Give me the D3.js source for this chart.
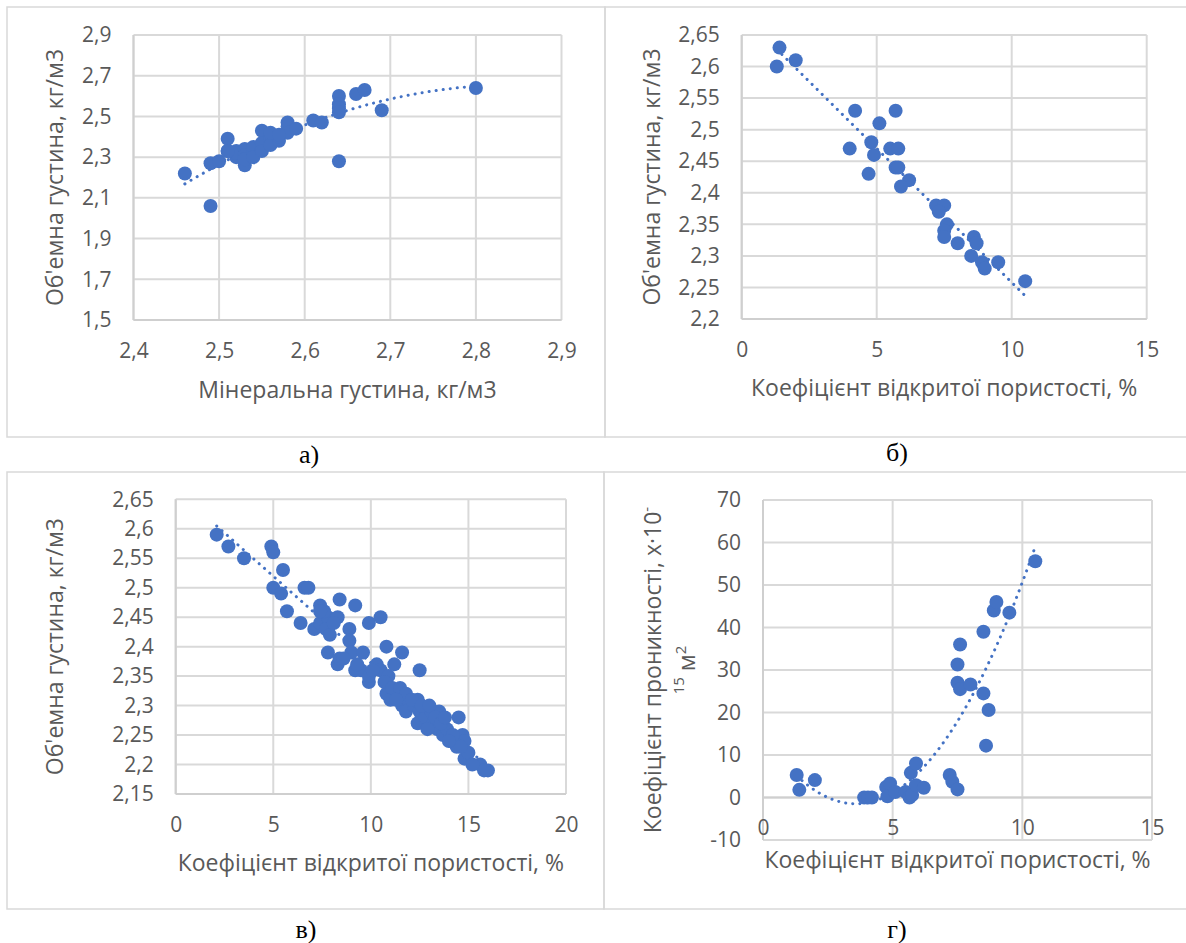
<!DOCTYPE html>
<html><head><meta charset="utf-8">
<script src="https://cdn.jsdelivr.net/npm/d3@7"></script>
<style>
html,body{margin:0;padding:0;background:#fff;}
svg{display:block;}
</style></head>
<body>
<svg id="c" width="1186" height="943"></svg>
<script>
// ---------- DATA ----------
// а) mineral density vs bulk density
const aMineral = [2.46,2.49,2.49,2.50,2.51,2.51,2.52,2.52,2.52,2.53,2.53,2.53,2.53,2.54,2.54,2.54,2.55,2.55,2.55,2.55,2.56,2.56,2.56,2.57,2.57,2.58,2.58,2.58,2.59,2.61,2.62,2.64,2.64,2.64,2.64,2.64,2.66,2.67,2.69,2.80,2.56,2.57,2.51];
const aBulk    = [2.22,2.06,2.27,2.28,2.39,2.33,2.33,2.30,2.32,2.34,2.31,2.26,2.29,2.32,2.35,2.30,2.43,2.34,2.37,2.33,2.41,2.39,2.36,2.38,2.40,2.47,2.45,2.42,2.44,2.48,2.47,2.60,2.56,2.54,2.52,2.28,2.61,2.63,2.53,2.64,2.42,2.41,2.33];
const aXTicks = [2.4,2.5,2.6,2.7,2.8,2.9];
const aYTicks = [1.5,1.7,1.9,2.1,2.3,2.5,2.7,2.9];

// б) open porosity vs bulk density
const bPorosity = [1.4,1.3,2.0,4.2,5.7,5.1,4.0,4.8,4.9,5.5,5.8,4.7,5.7,5.8,6.2,5.9,7.2,7.5,7.3,7.6,7.5,7.5,8.0,8.6,8.7,8.5,8.9,9.0,9.5,10.5];
const bBulk     = [2.63,2.60,2.61,2.53,2.53,2.51,2.47,2.48,2.46,2.47,2.47,2.43,2.44,2.44,2.42,2.41,2.38,2.38,2.37,2.35,2.34,2.33,2.32,2.33,2.32,2.30,2.29,2.28,2.29,2.26];
const bXTicks = [0,5,10,15];
const bYTicks = [2.2,2.25,2.3,2.35,2.4,2.45,2.5,2.55,2.6,2.65];

// в) open porosity vs bulk density (larger set)
const vPorosity = [2.1,2.7,3.5,4.9,5.0,5.5,5.0,5.4,5.7,6.4,6.6,6.8,7.4,8.4,9.2,9.9,10.5,10.8,11.6,12.5,14.5,16.0,15.6,15.8,
  7.1,7.4,7.8,7.7,7.9,8.3,8.1,7.6,7.4,
  8.9,8.9,7.8,8.3,8.4,9.0,9.2,9.6,9.5,9.9,9.9,10.3,10.5,10.9,11.2,
  10.8,11.0,11.4,11.6,11.9,11.8,12.2,12.4,12.5,12.4,12.8,13.1,13.2,13.5,13.4,13.7,13.9,14.1,14.4,14.7,14.8,14.8,15.0,15.2,
  10.7,11.1,11.5,11.8,12.1,12.6,13.0,13.3,13.6,13.8,14.2,14.6,9.3,8.6,10.1,11.3,12.9,14.0];
const vBulk = [2.59,2.57,2.55,2.57,2.56,2.53,2.50,2.49,2.46,2.44,2.50,2.50,2.47,2.48,2.47,2.44,2.45,2.40,2.39,2.36,2.28,2.19,2.20,2.19,
  2.43,2.44,2.45,2.43,2.42,2.45,2.44,2.46,2.46,
  2.43,2.41,2.39,2.37,2.38,2.39,2.36,2.39,2.36,2.34,2.35,2.37,2.36,2.35,2.37,
  2.32,2.31,2.32,2.30,2.31,2.29,2.30,2.31,2.29,2.27,2.28,2.29,2.27,2.29,2.26,2.25,2.26,2.24,2.23,2.25,2.24,2.21,2.22,2.20,
  2.34,2.33,2.33,2.32,2.31,2.30,2.30,2.28,2.27,2.28,2.25,2.23,2.37,2.38,2.36,2.31,2.26,2.24];
const vXTicks = [0,5,10,15,20];
const vYTicks = [2.15,2.2,2.25,2.3,2.35,2.4,2.45,2.5,2.55,2.6,2.65];

// г) open porosity vs permeability
const gPorosity = [1.3,1.4,2.0,3.9,4.05,4.2,4.75,4.8,4.9,5.1,5.5,5.65,5.75,5.7,5.9,5.9,6.2,7.2,7.3,7.5,7.5,7.6,7.5,7.6,8.0,8.5,8.5,8.6,8.7,8.9,9.0,9.5,10.5];
const gPerm     = [5.3,1.8,4.1,0,0,0,2.5,0.3,3.3,1.3,1.3,0,0.6,5.8,8.0,2.9,2.3,5.3,3.7,1.9,31.3,36.0,27.0,25.5,26.6,39.0,24.5,12.2,20.6,44.0,46.0,43.5,55.6];
const gXTicks = [0,5,10,15];
const gYTicks = [-10,0,10,20,30,40,50,60,70];

// ---------- HELPERS ----------
const BLUE = "#4472C4", GRID = "#d9d9d9", TXT = "#595959";
const FONT = "'Open Sans', 'Noto Sans', sans-serif";
const TICK_FS = "21px", TITLE_FS = "23px", SUP_FS = "15px";
const svg = d3.select("#c");
const fmt = v => String(+v.toFixed(2)).replace(".", ",");

function polyfit(xs, ys, order) {
  const n = order + 1;
  const A = Array.from({length:n}, () => new Array(n + 1).fill(0));
  xs.forEach((x, k) => {
    for (let i = 0; i < n; i++) {
      for (let j = 0; j < n; j++) A[i][j] += Math.pow(x, i + j);
      A[i][n] += ys[k] * Math.pow(x, i);
    }
  });
  for (let i = 0; i < n; i++) {
    let p = i;
    for (let r = i + 1; r < n; r++) if (Math.abs(A[r][i]) > Math.abs(A[p][i])) p = r;
    [A[i], A[p]] = [A[p], A[i]];
    for (let r = 0; r < n; r++) if (r !== i) {
      const f = A[r][i] / A[i][i];
      for (let c = i; c <= n; c++) A[r][c] -= f * A[i][c];
    }
  }
  return A.map((row, i) => row[n] / row[i]);
}

function panel(o) {
  const x = d3.scaleLinear().domain(o.xDom).range([o.left, o.right]);
  const y = d3.scaleLinear().domain(o.yDom).range([o.bottom, o.top]);
  const g = svg.append("g");
  // gridlines
  g.selectAll(null).data(o.yTicks).join("line")
    .attr("x1", o.left).attr("x2", o.right)
    .attr("y1", d => y(d)).attr("y2", d => y(d))
    .attr("stroke", GRID).attr("stroke-width", 2);
  g.selectAll(null).data(o.xTicks).join("line")
    .attr("y1", o.top).attr("y2", o.bottom)
    .attr("x1", d => x(d)).attr("x2", d => x(d))
    .attr("stroke", GRID).attr("stroke-width", 2);
  // axes lines
  const axY = o.xAxisAt !== undefined ? y(o.xAxisAt) : o.bottom;
  g.append("line").attr("x1", o.left).attr("x2", o.right).attr("y1", axY).attr("y2", axY)
    .attr("stroke", "#cfcfcf").attr("stroke-width", 2);
  g.append("line").attr("x1", o.left).attr("x2", o.left).attr("y1", o.top).attr("y2", o.bottom)
    .attr("stroke", "#cfcfcf").attr("stroke-width", 2);

  // tick labels via d3 axes
  const xa = g.append("g").attr("transform", `translate(0,${axY})`)
    .call(d3.axisBottom(x).tickValues(o.xTicks).tickFormat(fmt).tickSize(0).tickPadding(23));
  const ya = g.append("g").attr("transform", `translate(${o.left},0)`)
    .call(d3.axisLeft(y).tickValues(o.yTicks).tickFormat(fmt).tickSize(0).tickPadding(22));
  [xa, ya].forEach(a => {
    a.select(".domain").remove();
    a.selectAll("text").attr("fill", TXT).style("font-family", FONT).style("font-size", TICK_FS);
  });

  // trend line (least-squares polynomial of the points)
  const coef = polyfit(o.xs, o.ys, o.order);
  const [x0, x1] = d3.extent(o.xs);
  const samples = d3.range(0, 101).map(i => x0 + (x1 - x0) * i / 100);
  const f = v => coef.reduce((s, c, i) => s + c * Math.pow(v, i), 0);
  g.append("path")
    .attr("d", d3.line().x(d => x(d)).y(d => y(f(d)))(samples))
    .attr("fill", "none").attr("stroke", BLUE).attr("stroke-width", 3)
    .attr("stroke-linecap", "round").attr("stroke-dasharray", "0.1 7");

  // points
  g.selectAll(null).data(o.xs.map((v, i) => [v, o.ys[i]])).join("circle")
    .attr("cx", d => x(d[0])).attr("cy", d => y(d[1])).attr("r", 7)
    .attr("fill", BLUE);

  // x title
  g.append("text").attr("x", (o.left + o.right) / 2).attr("y", o.xTitleY)
    .attr("text-anchor", "middle").attr("dominant-baseline", "middle")
    .attr("fill", TXT).style("font-family", FONT).style("font-size", TITLE_FS)
    .text(o.xTitle);
  // y title
  if (o.yTitle) {
    g.append("text").attr("transform", `translate(${o.yTitleX},${(o.top + o.bottom) / 2}) rotate(-90)`)
      .attr("text-anchor", "middle").attr("dominant-baseline", "middle")
      .attr("fill", TXT).style("font-family", FONT).style("font-size", TITLE_FS)
      .text(o.yTitle);
  }
  return {x, y, g};
}

// panel frames
const frames = [[7,7,605,437],[605,7,1192,437],[7,472,604,909],[604,472,1192,909]];
svg.selectAll("rect.frame").data(frames).join("rect").attr("class","frame")
  .attr("x", d => d[0]).attr("y", d => d[1]).attr("width", d => d[2]-d[0]).attr("height", d => d[3]-d[1])
  .attr("fill", "none").attr("stroke", GRID).attr("stroke-width", 1.5);

panel({xs:aMineral, ys:aBulk, order:2, xDom:[2.4,2.9], yDom:[1.5,2.9], xTicks:aXTicks, yTicks:aYTicks,
  left:133.5, right:561.5, top:35, bottom:320, xTitle:"Мінеральна густина, кг/м3", xTitleY:392,
  yTitle:"Об'емна густина, кг/м3", yTitleX:57});

panel({xs:bPorosity, ys:bBulk, order:1, xDom:[0,15], yDom:[2.2,2.65], xTicks:bXTicks, yTicks:bYTicks,
  left:741.7, right:1146.7, top:35, bottom:319, xTitle:"Коефіцієнт відкритої пористості, %", xTitleY:390,
  yTitle:"Об'емна густина, кг/м3", yTitleX:654});

panel({xs:vPorosity, ys:vBulk, order:1, xDom:[0,20], yDom:[2.15,2.65], xTicks:vXTicks, yTicks:vYTicks,
  left:175.7, right:566, top:499.3, bottom:794, xTitle:"Коефіцієнт відкритої пористості, %", xTitleY:865,
  yTitle:"Об'емна густина, кг/м3", yTitleX:57});

panel({xs:gPorosity, ys:gPerm, order:2, xDom:[0,15], yDom:[-10,70], xTicks:gXTicks, yTicks:gYTicks,
  left:763, right:1152, top:500, bottom:840, xAxisAt:0, xTitle:"Коефіцієнт відкритої пористості, %", xTitleY:862});

// г) y title in two lines with superscripts
const cy = (500 + 840) / 2;
const t1 = svg.append("text").attr("transform", `translate(655,${cy}) rotate(-90)`)
  .attr("text-anchor", "middle").attr("dominant-baseline", "middle")
  .attr("fill", TXT).style("font-family", FONT).style("font-size", TITLE_FS);
t1.append("tspan").text("Коефіцієнт проникності, х·10");
t1.append("tspan").attr("dy", "-0.45em").style("font-size", SUP_FS).text("-");
const t2 = svg.append("text").attr("transform", `translate(686,${cy}) rotate(-90)`)
  .attr("text-anchor", "middle").attr("dominant-baseline", "middle")
  .attr("fill", TXT).style("font-family", FONT).style("font-size", TITLE_FS);
t2.append("tspan").attr("dy", "-0.4em").style("font-size", SUP_FS).text("15");
t2.append("tspan").attr("dy", "0.4em").text(" м");
t2.append("tspan").attr("dy", "-0.45em").style("font-size", SUP_FS).text("2");

// captions
const caps = [["а)",309,457],["б)",897,455],["в)",306,932],["г)",897,932]];
svg.selectAll("text.cap").data(caps).join("text").attr("class","cap")
  .attr("x", d => d[1]).attr("y", d => d[2]).attr("text-anchor","middle").attr("dominant-baseline","middle")
  .style("font-family", "'Liberation Serif', 'DejaVu Serif', serif").style("font-size", "26px")
  .attr("fill", "#000").text(d => d[0]);
</script>
</body></html>
